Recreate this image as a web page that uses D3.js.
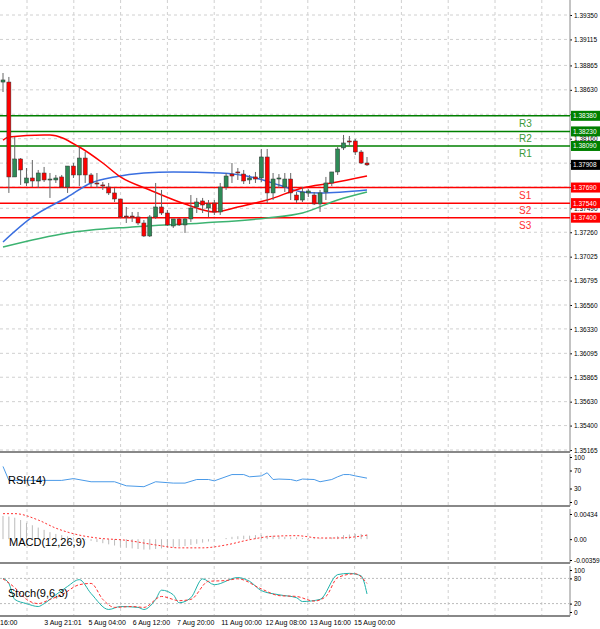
<!DOCTYPE html>
<html>
<head>
<meta charset="utf-8">
<style>
  body { margin:0; background:#fff; }
  text { font-family: 'Liberation Sans', Arial, sans-serif; }
</style>
</head>
<body>
<div id="chart"></div>
<script src="https://d3js.org/d3.v7.min.js"></script>
<script>
// candles [open, high, low, close]
const candles = [
  [1.38705,1.38792,1.38609,1.38725],[1.38705,1.38754,1.37638,1.37792],[1.37792,1.38176,1.37792,1.37965],
  [1.37965,1.37974,1.37715,1.37859],[1.37734,1.37878,1.37705,1.37782],[1.37782,1.37955,1.37695,1.37753],
  [1.37753,1.37859,1.37686,1.37830],[1.37830,1.37888,1.37743,1.37763],[1.37763,1.37830,1.37590,1.37772],
  [1.37763,1.37811,1.37734,1.37782],[1.37792,1.37811,1.37686,1.37695],[1.37695,1.37897,1.37638,1.37897],
  [1.37897,1.37926,1.37782,1.37811],[1.37811,1.38080,1.37705,1.37974],[1.37974,1.38032,1.37734,1.37811],
  [1.37811,1.37830,1.37695,1.37734],[1.37734,1.37830,1.37686,1.37724],[1.37715,1.37743,1.37667,1.37705],
  [1.37695,1.37734,1.37618,1.37638],[1.37638,1.37686,1.37551,1.37580],[1.37580,1.37580,1.37397,1.37407],
  [1.37416,1.37503,1.37349,1.37407],[1.37416,1.37455,1.37359,1.37407],[1.37407,1.37455,1.37330,1.37349],
  [1.37349,1.37378,1.37214,1.37224],[1.37224,1.37426,1.37214,1.37407],[1.37407,1.37734,1.37388,1.37503],
  [1.37503,1.37667,1.37426,1.37445],[1.37445,1.37474,1.37320,1.37330],[1.37320,1.37378,1.37301,1.37388],
  [1.37388,1.37397,1.37320,1.37330],[1.37330,1.37397,1.37253,1.37388],[1.37388,1.37618,1.37359,1.37493],
  [1.37503,1.37590,1.37445,1.37551],[1.37561,1.37590,1.37445,1.37522],[1.37493,1.37570,1.37407,1.37532],
  [1.37541,1.37570,1.37426,1.37455],[1.37455,1.37734,1.37426,1.37695],[1.37695,1.37830,1.37667,1.37801],
  [1.37820,1.37926,1.37734,1.37801],[1.37840,1.37878,1.37763,1.37830],[1.37820,1.37859,1.37724,1.37753],
  [1.37763,1.37811,1.37724,1.37782],[1.37792,1.37840,1.37734,1.37772],[1.37782,1.38061,1.37743,1.37984],
  [1.37984,1.38061,1.37541,1.37638],[1.37638,1.37830,1.37570,1.37772],[1.37772,1.37820,1.37686,1.37782],
  [1.37695,1.37830,1.37647,1.37772],[1.37772,1.37830,1.37570,1.37638],[1.37618,1.37647,1.37541,1.37570],
  [1.37570,1.37695,1.37551,1.37647],[1.37638,1.37676,1.37599,1.37657],[1.37618,1.37647,1.37522,1.37532],
  [1.37532,1.37667,1.37455,1.37638],[1.37647,1.37792,1.37570,1.37734],[1.37734,1.37840,1.37705,1.37840],
  [1.37840,1.38080,1.37811,1.38061],[1.38071,1.38196,1.38051,1.38119],[1.38138,1.38186,1.38090,1.38128],
  [1.38138,1.38157,1.38003,1.38032],[1.38032,1.38051,1.37916,1.37926],[1.37926,1.37984,1.37897,1.37908]
];

// moving averages [candle index, price]
const maRed = [[0,1.38147],[1,1.38176],[7,1.38196],[8,1.38196],[13,1.38080],[17,1.37926],[20,1.37792],[25,1.37667],
  [31,1.37532],[36,1.37455],[40,1.37503],[45,1.37570],[51,1.37686],[56,1.37734],[62,1.37801]];
const maBlue = [[0,1.37166],[5,1.37407],[11,1.37599],[15,1.37734],[19,1.37792],[24,1.37830],[29,1.37840],[37,1.37830],
  [43,1.37782],[47,1.37715],[51,1.37647],[54,1.37638],[62,1.37667]];
const maGreen = [[0,1.37118],[11,1.37253],[22,1.37311],[34,1.37349],[45,1.37397],[51,1.37445],[57,1.37570],[62,1.37647]];

const priceTicks = [1.39350,1.39115,1.38865,1.38630,1.38395,1.38160,1.37925,1.37695,1.37490,1.37260,1.37025,
  1.36795,1.36560,1.36330,1.36095,1.35865,1.35630,1.35400,1.35165];

const levels = [
  {name:'R3', value:1.38380, color:'#008000'},
  {name:'R2', value:1.38230, color:'#008000'},
  {name:'R1', value:1.38090, color:'#008000'},
  {name:'S1', value:1.37690, color:'#ff0000'},
  {name:'S2', value:1.37540, color:'#ff0000'},
  {name:'S3', value:1.37400, color:'#ff0000'}
];
const lastPrice = 1.37908;

const rsi = [[0,79],[1,48],[10,48],[12,52],[15,45],[19,45],[21,36],[24,34],[26,45],[29,42],[31,42],[33,50],[35,50],
  [36,47],[39,61],[41,61],[42,56],[44,58],[45,65],[46,50],[47,51],[49,50],[50,47],[51,51],[53,50],[54,45],[56,50],
  [57,56],[58,61],[59,61],[60,58],[62,53]];

const macdHist = [.0040,.0039,.0037,.0033, .0028,.0024,.0020,.0016,.0012, .0009,.0007,.0005,.0003,.0001,-.0001,
  -.0003,-.0005,-.0007,-.0009,-.0011,-.0013,-.0015,-.0016, -.0017,-.0018,-.0018,-.0017,-.0016,-.0015,-.0014,-.0013,
  -.0012,-.0010,-.0008,-.0006,-.0004,-.0002,0,.0002, .0004,.0005,.0006,.0006,.0007,.0007,.0006,.0006,.0005,.0004,.0003,.0003,
  .0002,.0002,.0002,.0001,.0002,.0003,.0005,.0007,.0008,.0009,.0009,.0008];
const macdSignal = [[0,.0044],[2,.0044],[6,.0033],[9,.0019],[13,.0007],[16,.0002],[21,-.0002],[26,-.001],[30,-.0015],
  [34,-.0015],[38,-.001],[42,-.0001],[46,.0005],[50,.0006],[54,.0002],[57,.0002],[60,.0004],[62,.0007]];

const stochMain = [[0,80],[1,68],[2,30],[4,20],[6,13],[7,20],[9,41],[10,51],[11,61],[13,77],[15,44],[18,6],[20,13],
  [23,11],[24,6],[26,30],[27,52],[29,41],[30,22],[32,34],[34,79],[36,65],[40,82],[42,73],[44,51],[47,41],[50,34],
  [51,25],[54,30],[57,89],[59,92],[61,86],[62,43]];
const stochSignal = [[0,79],[2,58],[4,30],[6,20],[8,30],[10,41],[13,65],[15,68],[17,30],[19,11],[22,13],[24,11],
  [27,37],[30,27],[32,30],[35,73],[38,75],[40,79],[44,55],[47,39],[50,37],[53,26],[55,37],[57,82],[60,91],[62,68]];

const timeLabels = ['16:00','3 Aug 21:01','5 Aug 04:00','6 Aug 12:00','7 Aug 20:00','11 Aug 00:00','12 Aug 08:00','13 Aug 16:00','15 Aug 00:00'];

const W = 600, H = 629, plotR = 570;
const svg = d3.select('#chart').append('svg').attr('width', W).attr('height', H);

const x = d3.scaleLinear().domain([0, 62]).range([3, 367]);
const y = d3.scaleLinear().domain([1.35165, 1.39350]).range([450, 15]);

const panels = [
  {top:0, bottom:452},
  {top:454, bottom:506},
  {top:509, bottom:563},
  {top:566, bottom:616}
];

// grid verticals
const gridX = d3.range(27, plotR, 46.8);
panels.forEach(p => {
  svg.append('g').selectAll('line').data(gridX).join('line')
    .attr('x1', d => d).attr('x2', d => d).attr('y1', p.top).attr('y2', p.bottom)
    .attr('stroke', '#d0d0d0').attr('stroke-dasharray', '3,3');
});

// main panel grid + axis
svg.append('g').selectAll('line').data(priceTicks).join('line')
  .attr('x1', 0).attr('x2', plotR).attr('y1', d => y(d)).attr('y2', d => y(d))
  .attr('stroke', '#d0d0d0').attr('stroke-dasharray', '3,3');

svg.append('g').attr('transform', `translate(${plotR},0)`)
  .call(d3.axisRight(y).tickValues(priceTicks).tickFormat(d3.format('.5f')).tickSize(2).tickPadding(2))
  .call(g => g.select('.domain').remove())
  .call(g => g.selectAll('text').attr('font-size', 6.5).attr('fill', '#000'));

// panel frames
panels.forEach(p => {
  svg.append('line').attr('x1', plotR).attr('x2', plotR).attr('y1', p.top).attr('y2', p.bottom).attr('stroke', '#888');
  svg.append('line').attr('x1', 0).attr('x2', plotR).attr('y1', p.bottom).attr('y2', p.bottom).attr('stroke', '#888').attr('stroke-width', 2);
});

// pivot levels
const lv = svg.append('g');
levels.forEach(l => {
  lv.append('line').attr('x1', 0).attr('x2', plotR).attr('y1', y(l.value)).attr('y2', y(l.value))
    .attr('stroke', l.color).attr('stroke-width', 1.5);
  lv.append('rect').attr('x', plotR + 1).attr('y', y(l.value) - 5).attr('width', 29).attr('height', 10).attr('fill', l.color);
  lv.append('text').attr('x', plotR + 3).attr('y', y(l.value) + 2.5).attr('font-size', 6.5).attr('fill', '#fff')
    .text(l.value.toFixed(5));
  lv.append('text').attr('x', 519).attr('y', y(l.value) + 11).attr('font-size', 10)
    .attr('fill', l.name[0] === 'R' ? '#3a9a3a' : '#ff3030').text(l.name);
});
lv.append('rect').attr('x', plotR + 1).attr('y', y(lastPrice) - 5).attr('width', 29).attr('height', 10).attr('fill', '#000');
lv.append('text').attr('x', plotR + 3).attr('y', y(lastPrice) + 2.5).attr('font-size', 6.5).attr('fill', '#fff').text(lastPrice.toFixed(5));

// moving averages
const maLine = d3.line().x(d => x(d[0])).y(d => y(d[1])).curve(d3.curveMonotoneX);
[[maGreen,'#3cb371'],[maBlue,'#3a6fe0'],[maRed,'#ff0000']].forEach(([d, c]) => {
  svg.append('path').attr('d', maLine(d)).attr('fill', 'none').attr('stroke', c).attr('stroke-width', 1.5);
});

// candles
const cg = svg.append('g').selectAll('g').data(candles).join('g');
cg.append('line').attr('x1', (d, i) => x(i)).attr('x2', (d, i) => x(i))
  .attr('y1', d => y(d[1])).attr('y2', d => y(d[2])).attr('stroke', '#666');
cg.append('rect').attr('x', (d, i) => x(i) - 2).attr('width', 4)
  .attr('y', d => y(Math.max(d[0], d[3])))
  .attr('height', d => Math.max(1, Math.abs(y(d[0]) - y(d[3]))))
  .attr('fill', d => d[3] >= d[0] ? '#2e8b57' : '#ff0000')
  .attr('stroke', '#333').attr('stroke-width', 0.5);

// RSI
const yR = d3.scaleLinear().domain([0, 100]).range([502, 457]);
svg.append('path').attr('d', d3.line().x(d => x(d[0])).y(d => yR(d[1]))(rsi))
  .attr('fill', 'none').attr('stroke', '#4a9ae8').attr('stroke-width', 1);
svg.append('g').attr('transform', `translate(${plotR},0)`)
  .call(d3.axisRight(yR).tickValues([100,70,30,0]).tickSize(2).tickPadding(2))
  .call(g => g.select('.domain').remove())
  .call(g => g.selectAll('text').attr('font-size', 6.5));
svg.append('text').attr('x', 8).attr('y', 484).attr('font-size', 11).text('RSI(14)');

// MACD
const yM = d3.scaleLinear().domain([-0.003597, 0.00434]).range([560, 514]);
svg.append('g').selectAll('line').data(macdHist).join('line')
  .attr('x1', (d, i) => x(i)).attr('x2', (d, i) => x(i)).attr('y1', yM(0)).attr('y2', d => yM(d))
  .attr('stroke', '#bbb');
svg.append('path').attr('d', d3.line().x(d => x(d[0])).y(d => yM(d[1])).curve(d3.curveMonotoneX)(macdSignal))
  .attr('fill', 'none').attr('stroke', '#ff3030').attr('stroke-dasharray', '2,2');
svg.append('g').attr('transform', `translate(${plotR},0)`)
  .call(d3.axisRight(yM).tickValues([0.00434, 0, -0.003597]).tickFormat(d => d === 0 ? '0.00' : String(d)).tickSize(2).tickPadding(2))
  .call(g => g.select('.domain').remove())
  .call(g => g.selectAll('text').attr('font-size', 6.5));
svg.append('text').attr('x', 9).attr('y', 546).attr('font-size', 11).text('MACD(12,26,9)');

// Stochastic
const yS = d3.scaleLinear().domain([0, 100]).range([612, 570]);
svg.append('g').selectAll('line').data([80, 20]).join('line')
  .attr('x1', 0).attr('x2', plotR).attr('y1', d => yS(d)).attr('y2', d => yS(d))
  .attr('stroke', '#bbb').attr('stroke-dasharray', '2,2');
svg.append('path').attr('d', d3.line().x(d => x(d[0])).y(d => yS(d[1])).curve(d3.curveMonotoneX)(stochMain))
  .attr('fill', 'none').attr('stroke', '#20b2aa').attr('stroke-width', 1);
svg.append('path').attr('d', d3.line().x(d => x(d[0])).y(d => yS(d[1])).curve(d3.curveMonotoneX)(stochSignal))
  .attr('fill', 'none').attr('stroke', '#ff3030').attr('stroke-dasharray', '3,2');
svg.append('g').attr('transform', `translate(${plotR},0)`)
  .call(d3.axisRight(yS).tickValues([100,80,20,0]).tickSize(2).tickPadding(2))
  .call(g => g.select('.domain').remove())
  .call(g => g.selectAll('text').attr('font-size', 6.5));
svg.append('text').attr('x', 8).attr('y', 597).attr('font-size', 11).text('Stoch(9,6,3)');

// time axis
const tx = d3.scalePoint().domain(timeLabels).range([0, 354]);
svg.append('g').selectAll('text').data(timeLabels).join('text')
  .attr('x', d => tx(d)).attr('y', 625).attr('font-size', 7).text(d => d);
</script>
</body>
</html>
